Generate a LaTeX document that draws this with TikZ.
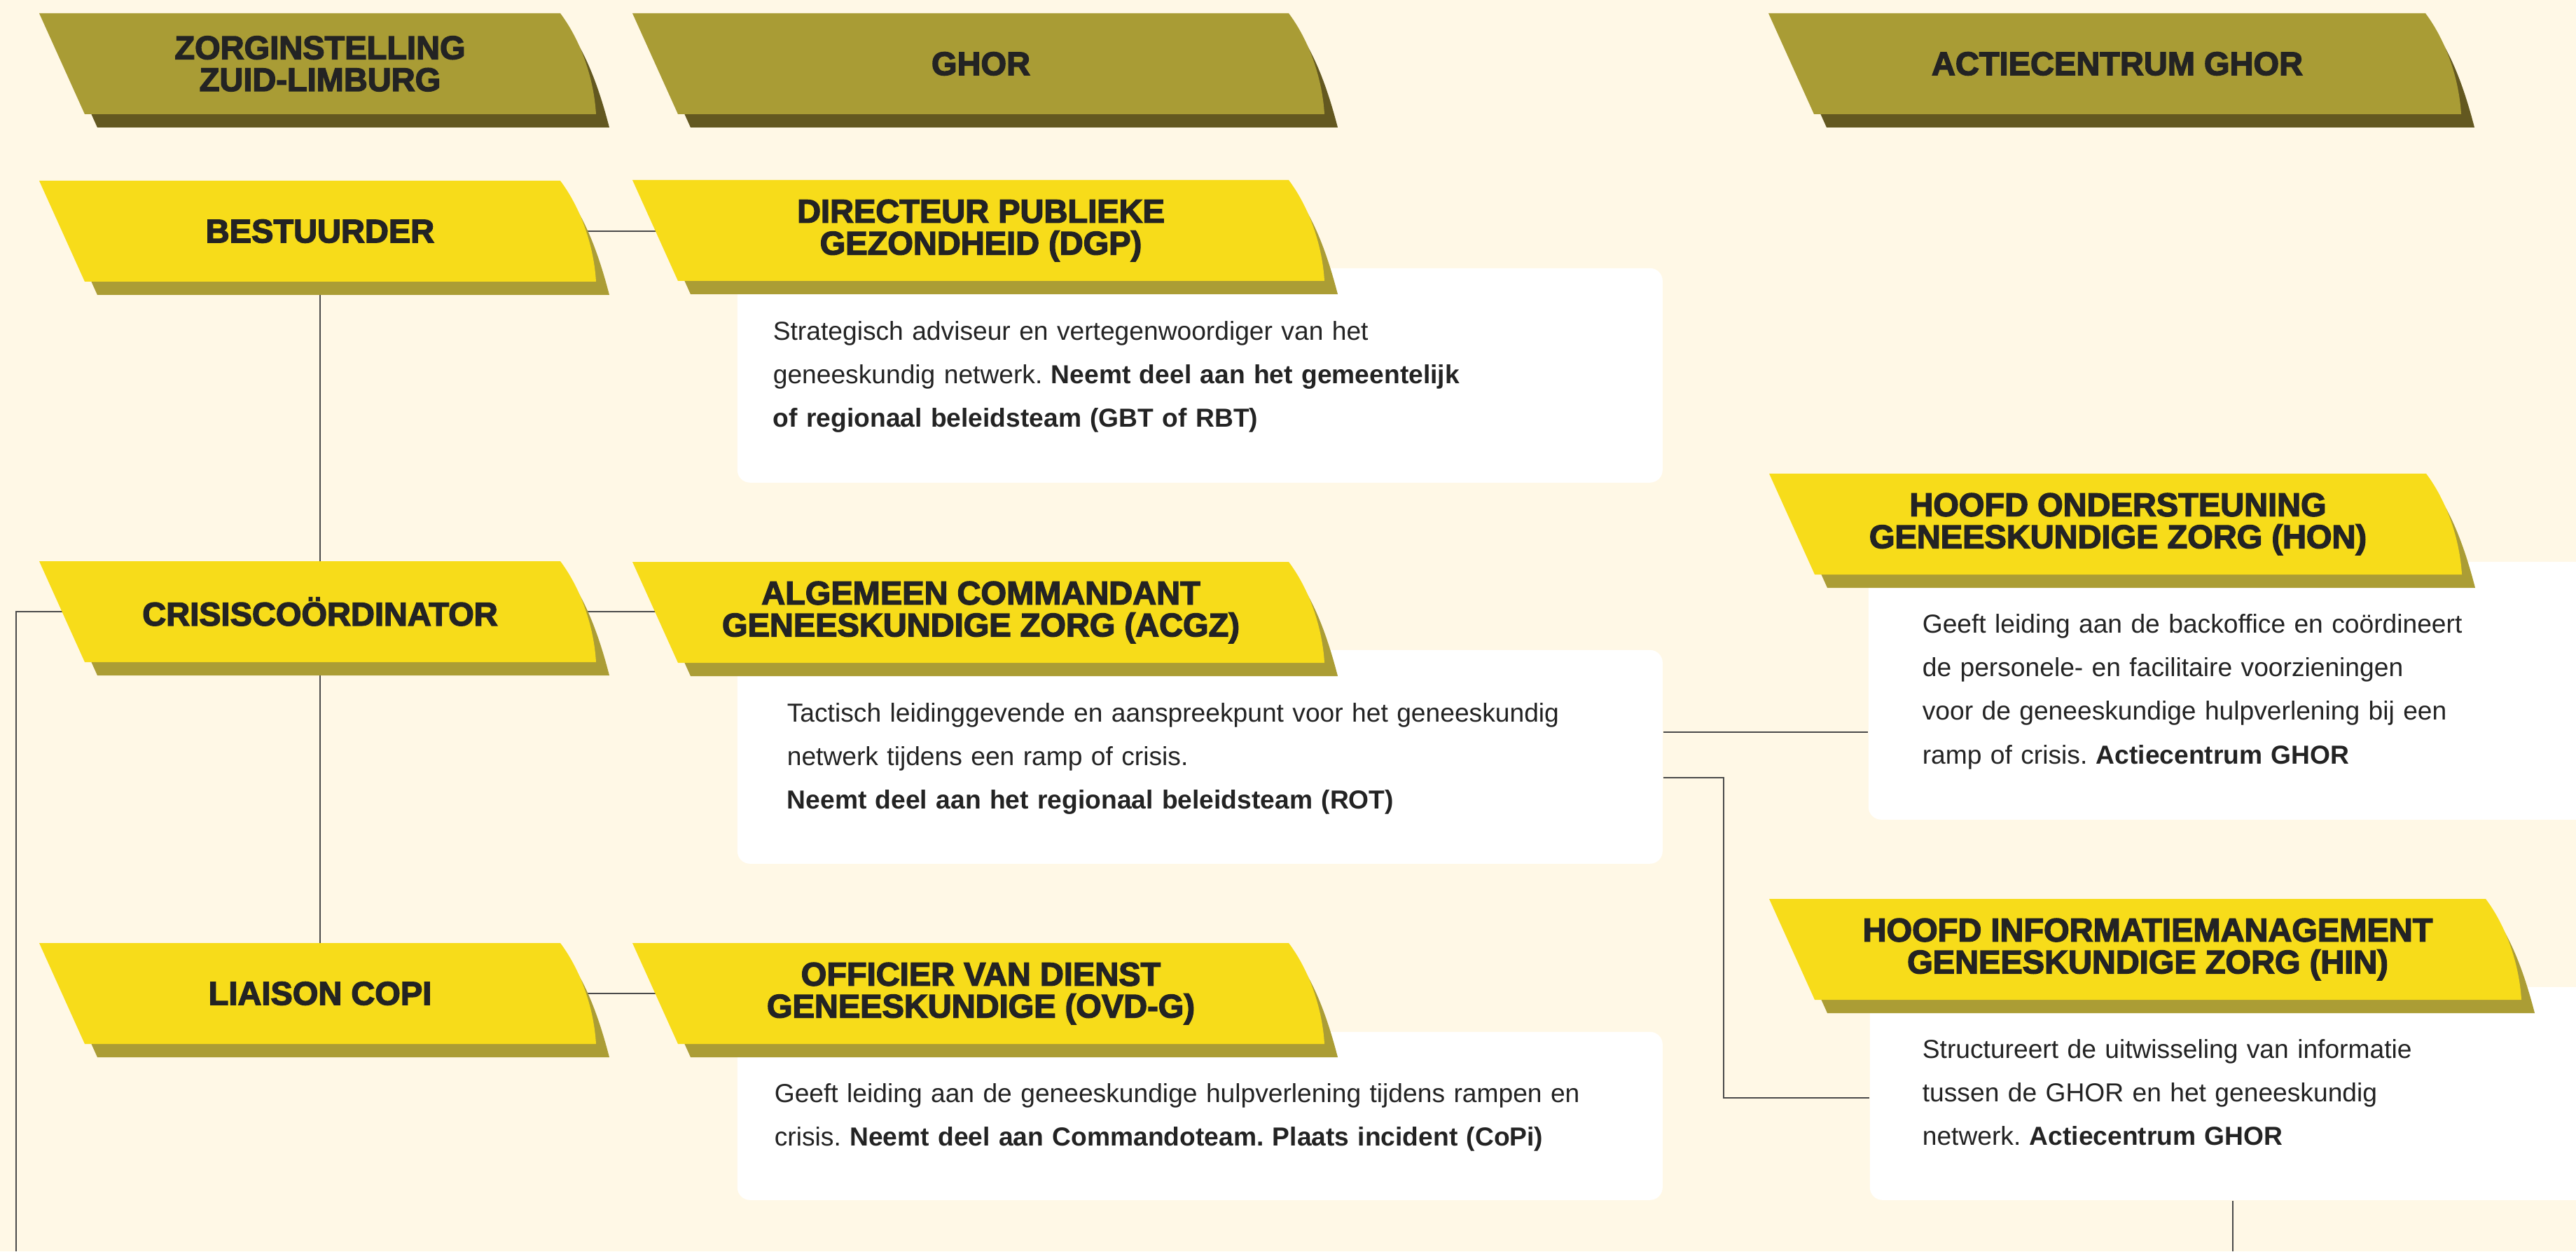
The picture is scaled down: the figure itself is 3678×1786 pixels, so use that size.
\documentclass[tikz,border=0pt]{standalone}
\usepackage{fontspec}
\setmainfont{Liberation Sans}
\newfontface\titlefont{Liberation Sans Bold}[FakeBold=3]
\frenchspacing
\definecolor{bgc}{HTML}{FFF8E6}
\definecolor{olive}{HTML}{A99C35}
\definecolor{oliveshadow}{HTML}{635820}
\definecolor{yel}{HTML}{F7DC1A}
\definecolor{yelshadow}{HTML}{AB9D35}
\definecolor{txt}{HTML}{232323}
\definecolor{linec}{HTML}{4A4A4A}
\pgfdeclarelayer{bgfill}
\pgfdeclarelayer{lines}
\pgfsetlayers{bgfill,lines,main}
\tikzset{
  title/.style={font=\titlefont\fontsize{11.75pt}{11.4pt}\selectfont, text=txt, align=center, inner sep=0pt},
  body/.style={font=\frenchspacing\fontsize{9.3pt}{15.6pt}\selectfont, text=txt, align=left, text width=330pt, inner sep=0pt, anchor=base west},
  wbox/.style={fill=white, rounded corners=4.5pt, inner sep=0pt, anchor=north west},
  conn/.style={draw=linec, line width=0.5pt},
}
% #1 name, #2 xl, #3 yt, #4 xr, #5 fill, #6 shadow, #7 text
\newcommand\banner[7]{%
  \fill[#6] (#2+18,#3+19) -- (#4+9,#3+19) .. controls (#4+39,#3+59) and (#4+57,#3+113) .. (#4+70,#3+163) -- (#2+83,#3+163) -- cycle;
  \fill[#5] (#2,#3) -- (#4,#3) .. controls (#4+30,#3+40) and (#4+48,#3+94) .. (#4+51,#3+144) -- (#2+65,#3+144) -- cycle;
  \node[title] (#1) at ({(#2+#4)/2+29},#3+72) {#7};
}
\begin{document}
\begin{tikzpicture}[x=0.25pt,y=-0.25pt]
\useasboundingbox (0,0) rectangle (3678,1786);
\begin{pgfonlayer}{bgfill}
\fill[bgc] (0,0) rectangle (3678,1786);
\end{pgfonlayer}

% white description boxes
\node[wbox, minimum width=330.25pt, minimum height=76.5pt] (dgpw) at (1052,382) {};
\node[wbox, minimum width=330.25pt, minimum height=76.25pt] (acgzw) at (1052,927) {};
\node[wbox, minimum width=330.25pt, minimum height=60pt] (ovdgw) at (1052,1472) {};
\node[wbox, minimum width=280pt, minimum height=92pt] (honw) at (2667,801) {};
\node[wbox, minimum width=280pt, minimum height=76pt] (hinw) at (2669,1408) {};

% headers
\banner{hzorg}{56}{19}{800}{olive}{oliveshadow}{ZORGINSTELLING\\ZUID-LIMBURG}
\banner{hghor}{903}{19}{1840}{olive}{oliveshadow}{GHOR}
\banner{hac}{2525}{19}{3463}{olive}{oliveshadow}{ACTIECENTRUM GHOR}

% role banners
\banner{bestuurder}{56}{258}{800}{yel}{yelshadow}{BESTUURDER}
\banner{crisis}{56}{801}{800}{yel}{yelshadow}{CRISISCOÖRDINATOR}
\banner{liaison}{56}{1346}{800}{yel}{yelshadow}{LIAISON COPI}
\banner{dgp}{903}{257}{1840}{yel}{yelshadow}{DIRECTEUR PUBLIEKE\\GEZONDHEID (DGP)}
\banner{acgz}{903}{802}{1840}{yel}{yelshadow}{ALGEMEEN COMMANDANT\\GENEESKUNDIGE ZORG (ACGZ)}
\banner{ovdg}{903}{1346}{1840}{yel}{yelshadow}{OFFICIER VAN DIENST\\GENEESKUNDIGE (OVD-G)}
\banner{hon}{2526}{676}{3464}{yel}{yelshadow}{HOOFD ONDERSTEUNING\\GENEESKUNDIGE ZORG (HON)}
\banner{hin}{2526}{1283}{3549}{yel}{yelshadow}{HOOFD INFORMATIEMANAGEMENT\\GENEESKUNDIGE ZORG (HIN)}

% description texts
\node[body] (dgpt) at (1103,485) {Strategisch adviseur en vertegenwoordiger van het\\geneeskundig netwerk. \textbf{Neemt deel aan het gemeentelijk}\\\textbf{of regionaal beleidsteam (GBT of RBT)}};
\node[body] (acgzt) at (1123,1030) {Tactisch leidinggevende en aanspreekpunt voor het geneeskundig\\netwerk tijdens een ramp of crisis.\\\textbf{Neemt deel aan het regionaal beleidsteam (ROT)}};
\node[body] (ovdgt) at (1105,1573) {Geeft leiding aan de geneeskundige hulpverlening tijdens rampen en\\crisis. \textbf{Neemt deel aan Commandoteam. Plaats incident (CoPi)}};
\node[body] (hont) at (2744,903) {Geeft leiding aan de backoffice en coördineert\\de personele- en facilitaire voorzieningen\\voor de geneeskundige hulpverlening bij een\\ramp of crisis. \textbf{Actiecentrum GHOR}};
\node[body] (hint) at (2744,1510) {Structureert de uitwisseling van informatie\\tussen de GHOR en het geneeskundig\\netwerk. \textbf{Actiecentrum GHOR}};

% connectors
\coordinate (leftbot) at (23,1786);
\coordinate (rightbot) at (3188,1786);
\coordinate (elbow) at (2461,1110);
\begin{pgfonlayer}{lines}
\draw[conn] (bestuurder) -- (bestuurder -| dgp);
\draw[conn] (bestuurder) -- (crisis);
\draw[conn] (crisis) -- (liaison);
\draw[conn] (crisis) -- (crisis -| acgz);
\draw[conn] (liaison) -- (liaison -| ovdg);
\draw[conn] (crisis) -| (leftbot);
\draw[conn] (acgzw.east |- 0,1045) -- (honw.west |- 0,1045);
\draw[conn] (acgzw.east |- elbow) -- (elbow) |- (hinw.west |- 0,1567);
\draw[conn] (hinw.south -| rightbot) -- (rightbot);
\end{pgfonlayer}
\end{tikzpicture}
\end{document}
